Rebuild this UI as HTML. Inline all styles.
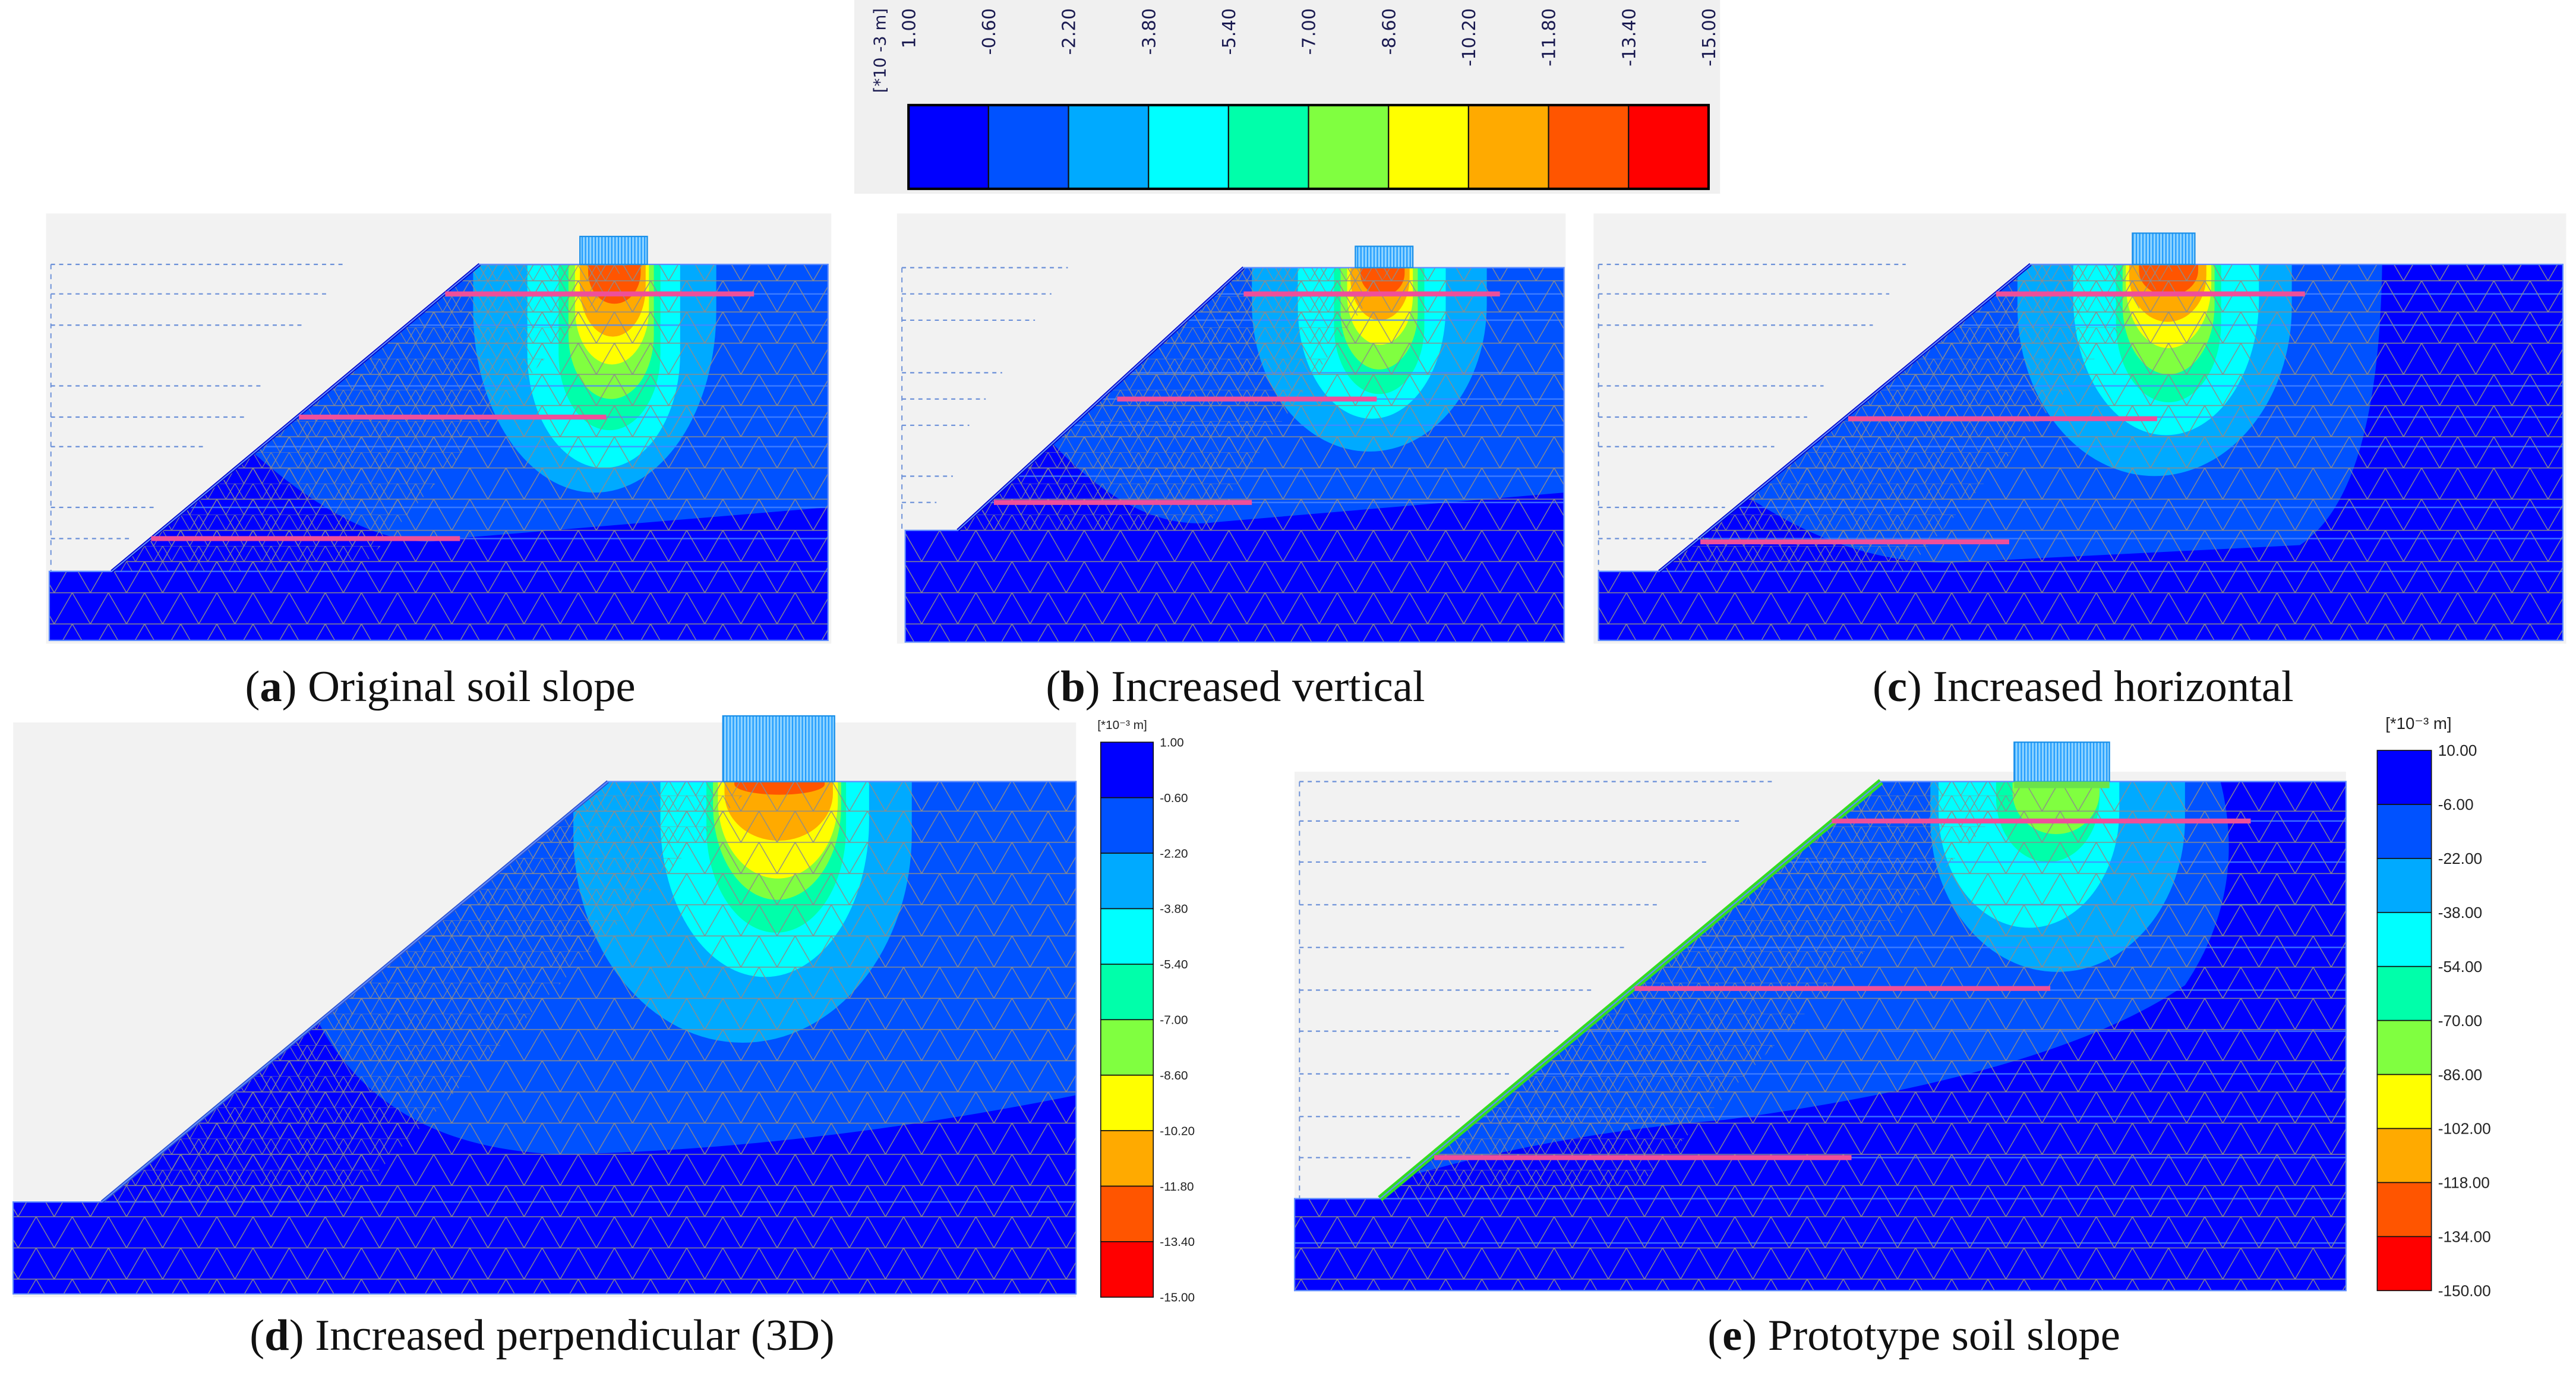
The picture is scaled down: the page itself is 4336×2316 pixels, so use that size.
<!DOCTYPE html>
<html><head><meta charset="utf-8">
<style>
html,body{margin:0;padding:0;background:#fff;}
#fig{display:block;}
</style></head>
<body>
<svg id="fig" xmlns="http://www.w3.org/2000/svg" width="4336" height="2316" viewBox="0 0 1568 838" preserveAspectRatio="none">
<defs>
<pattern id="mesh" width="22" height="19" patternUnits="userSpaceOnUse">
<path d="M0,0 L22,0 M0,0 L11,19 M22,0 L11,19 M0,19 L22,19" stroke="#8c8c8c" stroke-width="0.5" fill="none"/>
</pattern>
<pattern id="meshfine" width="11" height="9.5" patternUnits="userSpaceOnUse">
<path d="M0,0 L11,0 M0,0 L5.5,9.5 M11,0 L5.5,9.5" stroke="#8c8c8c" stroke-width="0.4" fill="none"/>
</pattern>
<pattern id="stripes" width="2" height="10" patternUnits="userSpaceOnUse">
<rect width="2" height="10" fill="#8fd4ff"/><rect width="0.8" height="10" fill="#1f9bff"/>
</pattern>
</defs>
<rect width="1568" height="838" fill="#ffffff"/>
<g id="root"></g>
</svg>
<script>
const colors = ["#0000ff","#0052ff","#00aaff","#00ffff","#00ffaa","#80ff40","#ffff00","#ffaa00","#ff5500","#ff0000"];
const topLabels = ["1.00","-0.60","-2.20","-3.80","-5.40","-7.00","-8.60","-10.20","-11.80","-13.40","-15.00"];
const dLabels = ["1.00","-0.60","-2.20","-3.80","-5.40","-7.00","-8.60","-10.20","-11.80","-13.40","-15.00"];
const eLabels = ["10.00","-6.00","-22.00","-38.00","-54.00","-70.00","-86.00","-102.00","-118.00","-134.00","-150.00"];

const NS = "http://www.w3.org/2000/svg";
const root = document.getElementById('root');
function mk(tag, attrs, parent, name) {
  const el = document.createElementNS(NS, tag);
  for (const k in attrs) el.setAttribute(k, attrs[k]);
  
  
  (parent || root).appendChild(el);
  return el;
}

// ---------- top horizontal legend ----------
const lg = mk('g', {}, root, 'top-color-legend');
mk('rect', {x:520, y:0, width:527, height:118, fill:'#f0f0f0'}, lg, 'legend-background');
const barX0 = 553, barX1 = 1040, barY0 = 64, barY1 = 115;
const cw = (barX1 - barX0) / colors.length;
colors.forEach((c, i) => {
  mk('rect', {x:barX0 + i*cw, y:barY0, width:cw, height:barY1-barY0, fill:c, stroke:'#111', 'stroke-width':0.8}, lg, 'legend-swatch');
});
mk('rect', {x:barX0, y:barY0, width:barX1-barX0, height:barY1-barY0, fill:'none', stroke:'#000', 'stroke-width':1.5}, lg, 'legend-frame');
topLabels.forEach((t, i) => {
  const x = barX0 + i*cw + 4;
  const tx = mk('text', {x:0, y:0, transform:`translate(${x},5) rotate(-90)`, 'text-anchor':'end', 'font-family':'DejaVu Sans, sans-serif', 'font-size':11, fill:'#1a1a50'}, lg, 'legend-tick-label');
  tx.textContent = t;
});
const ul = mk('text', {x:0, y:0, transform:'translate(539,5) rotate(-90)', 'text-anchor':'end', 'font-family':'DejaVu Sans, sans-serif', 'font-size':10, fill:'#1a1a50'}, lg, 'legend-unit-label');
ul.textContent = '[*10 -3 m]';

// ---------- panels ----------
const panels = [
 {name:'panel-a', bg:[28,130,478,262], soil:'30,348 68,348 292,161 504,161 504,390 30,390',
  slope:[68,348,292,161], slopeColor:'#0000cc', top:161,
  c1:'M150,272 Q225,340 276,328 L504,309 L504,150 L280,150 Z',
  bulbs:[[2,288,436,300],[3,321,414,285],[4,340,402,262],[5,346,398,243],[6,350,395,222],[7,353,393,205],[8,358,390,185]],
  pinks:[[271,459,179],[182,369,254],[92,280,328]],
  dashes:[[161,210],[179,200],[198,185],[235,160],[254,150],[272,125],[309,95],[328,80]], hlines:[179,198,235,254,272,309,328,348],
  found:[353,144,41,17]},
 {name:'panel-b', bg:[546,130,407,262], soil:'551,323 583,323 757,163 952,163 952,391 551,391',
  slope:[583,323,757,163], slopeColor:'#0000cc', top:163,
  c1:'M636,265 Q690,325 740,318 L952,300 L952,150 L750,150 Z',
  bulbs:[[2,762,905,275],[3,790,880,255],[4,812,867,240],[5,816,863,225],[6,820,860,210],[7,822,858,195],[8,828,855,180]],
  pinks:[[757,913,179],[680,838,243],[605,762,306]],
  dashes:[[163,650],[179,640],[195,630],[227,610],[243,600],[259,590],[290,580],[306,570]], hlines:[179,195,227,243,259,290,306],
  found:[825,150,35,13]},
 {name:'panel-c', bg:[970,130,592,262], soil:'973,348 1010,348 1236,161 1560,161 1560,390 973,390',
  slope:[1010,348,1236,161], slopeColor:'#0000cc', top:161,
  c1:'M1060,300 Q1130,348 1200,342 L1400,332 Q1448,300 1450,161 L1230,150 Z',
  bulbs:[[2,1228,1395,290],[3,1262,1375,265],[4,1288,1352,245],[5,1292,1348,228],[6,1294,1346,212],[7,1296,1343,196],[8,1302,1338,180]],
  pinks:[[1215,1403,179],[1125,1313,255],[1035,1223,330]],
  dashes:[[161,1160],[179,1150],[198,1140],[235,1110],[254,1100],[272,1080],[309,1050],[328,1040]], hlines:[179,198,235,254,272,309,328,348],
  found:[1298,142,38,19]},
 {name:'panel-d', bg:[8,440,647,350], soil:'8,732 62,732 370,476 655,476 655,788 8,788',
  slope:[62,732,370,476], slopeColor:'#2a4fd0', top:476,
  c1:'M190,615 Q230,700 343,703 Q490,700 655,667 L655,470 L360,470 Z',
  bulbs:[[2,349,555,635],[3,402,529,595],[4,430,515,568],[5,434,512,548],[6,437,510,535],[7,441,507,512],[8,447,502,484]],
  pinks:[], dashes:[], hlines:[732],
  found:[440,436,68,40]},
 {name:'panel-e', bg:[788,470,640,316], soil:'788,730 840,730 1145,476 1428,476 1428,786 788,786',
  slope:[840,730,1145,476], slopeColor:'#33dd22', top:476,
  c1:'M862,715 Q950,690 1050,682 Q1250,655 1330,600 Q1370,540 1350,470 L1140,470 Z',
  bulbs:[[2,1175,1330,592],[3,1180,1290,565],[4,1215,1278,525],[5,1225,1278,508]],
  pinks:[[1115,1370,500],[995,1248,602],[873,1127,705]],
  dashes:[[476,1080],[500,1060],[525,1040],[551,1010],[577,990],[603,970],[628,950],[654,920],[680,890],[705,860]], hlines:[500,525,551,577,603,628,654,680,705,730,757],
  found:[1226,452,58,24]}
];

function uPath(x1, x2, top, yb) {
  const rx = (x2 - x1) / 2, h = yb - top;
  const ry = Math.min(h * 0.8, rx * 1.5);
  const ys = yb - ry;
  return `M${x1},${top-2} L${x1},${ys} A${rx},${ry} 0 0 0 ${x2},${ys} L${x2},${top-2} Z`;
}

panels.forEach((p, pi) => {
  const g = mk('g', {}, root, p.name);
  mk('rect', {x:p.bg[0], y:p.bg[1], width:p.bg[2], height:p.bg[3], fill:'#f2f2f2'}, g, 'plot-background');
  const cp = mk('clipPath', {id:'clip'+pi}, g, 'soil-clip');
  mk('polygon', {points:p.soil}, cp, 'soil-clip-shape');
  const sg = mk('g', {'clip-path':`url(#clip${pi})`}, g, 'soil-contours');
  mk('polygon', {points:p.soil, fill:colors[0]}, sg, 'soil-base');
  mk('path', {d:p.c1, fill:colors[1]}, sg, 'contour-band-1');
  p.bulbs.forEach(b => {
    mk('path', {d:uPath(b[1], b[2], p.top, b[3]), fill:colors[b[0]]}, sg, 'contour-band-'+b[0]);
  });
  p.hlines.forEach(y => {
    mk('line', {x1:p.bg[0], y1:y, x2:p.bg[0]+p.bg[2], y2:y, stroke:'#4a86ff', 'stroke-width':0.9, opacity:0.8}, sg, 'layer-line');
  });
  mk('rect', {x:p.bg[0], y:p.bg[1], width:p.bg[2], height:p.bg[3], fill:'url(#mesh)'}, sg, 'fe-mesh');
  const s = p.slope;
  const wedge = `${s[0]},${s[1]} ${s[2]},${s[3]} ${s[2]+90},${s[3]} ${s[0]+150},${s[1]}`;
  mk('polygon', {points:wedge, fill:'url(#meshfine)'}, sg, 'fe-mesh-fine');
  mk('line', {x1:s[0], y1:s[1], x2:s[2], y2:s[3], stroke:p.slopeColor, 'stroke-width':p.slopeColor==='#33dd22'?4:2}, g, 'slope-face');
  mk('polygon', {points:p.soil, fill:'none', stroke:'#5e8cff', 'stroke-width':0.8}, g, 'soil-outline');
  p.dashes.forEach(d => {
    mk('line', {x1:p.bg[0]+3, y1:d[0], x2:d[1], y2:d[0], stroke:'#6a8fd8', 'stroke-width':0.8, 'stroke-dasharray':'2.5,2.5'}, g, 'water-dash-line');
  });
  if (p.dashes.length) {
    mk('line', {x1:p.bg[0]+3, y1:p.dashes[0][0], x2:p.bg[0]+3, y2:s[1], stroke:'#6a8fd8', 'stroke-width':0.7, 'stroke-dasharray':'3,3'}, g, 'water-dash-vertical');
  }
  p.pinks.forEach(k => {
    mk('line', {x1:k[0], y1:k[2], x2:k[1], y2:k[2], stroke:'#ee4f9a', 'stroke-width':3}, g, 'geogrid-reinforcement');
  });
  const f = p.found;
  mk('rect', {x:f[0], y:f[1], width:f[2], height:f[3], fill:'url(#stripes)', stroke:'#1a8fe8', 'stroke-width':0.8}, g, 'footing-load');
  if (pi === 4) mk('rect', {x:f[0], y:f[1]+f[3], width:f[2], height:4, fill:'#6be24a'}, g, 'footing-plate');
});

// ---------- vertical colorbars ----------
function vbar(name, x, y0, y1, w, labels, lx, fs, unitX, unitY, unitFs) {
  const g = mk('g', {}, root, name);
  const h = (y1 - y0) / colors.length;
  colors.forEach((c, i) => {
    mk('rect', {x:x, y:y0 + i*h, width:w, height:h, fill:c, stroke:'#111', 'stroke-width':0.6}, g, 'colorbar-swatch');
  });
  labels.forEach((t, i) => {
    const tx = mk('text', {x:lx, y:y0 + i*h + fs*0.35, 'font-family':'Liberation Sans, sans-serif', 'font-size':fs, fill:'#222'}, g, 'colorbar-tick-label');
    tx.textContent = t;
  });
  const u = mk('text', {x:unitX, y:unitY, 'font-family':'Liberation Sans, sans-serif', 'font-size':unitFs, fill:'#222'}, g, 'colorbar-unit-label');
  u.textContent = '[*10⁻³ m]';
}
vbar('colorbar-d', 670, 452, 790, 32, dLabels, 706, 7.5, 668, 444, 7.5);
vbar('colorbar-e', 1447, 457, 786, 33, eLabels, 1484, 9.5, 1452, 444, 10);

// ---------- captions ----------
const captions = [["a"," Original soil slope",268,427],["b"," Increased vertical",752,427],["c"," Increased horizontal",1268,427],["d"," Increased perpendicular (3D)",330,822],["e"," Prototype soil slope",1165,822]];
captions.forEach(c => {
  const t = mk('text', {x:c[2], y:c[3], 'text-anchor':'middle', 'font-family':'Liberation Serif, serif', 'font-size':27, fill:'#111'}, root, 'caption-'+c[0]);
  const t1 = mk('tspan', {}, t, 'caption-paren-open'); t1.textContent = '(';
  const t2 = mk('tspan', {'font-weight':'bold'}, t, 'caption-letter'); t2.textContent = c[0];
  const t3 = mk('tspan', {}, t, 'caption-text'); t3.textContent = ')' + c[1];
});
</script>
</body></html>
